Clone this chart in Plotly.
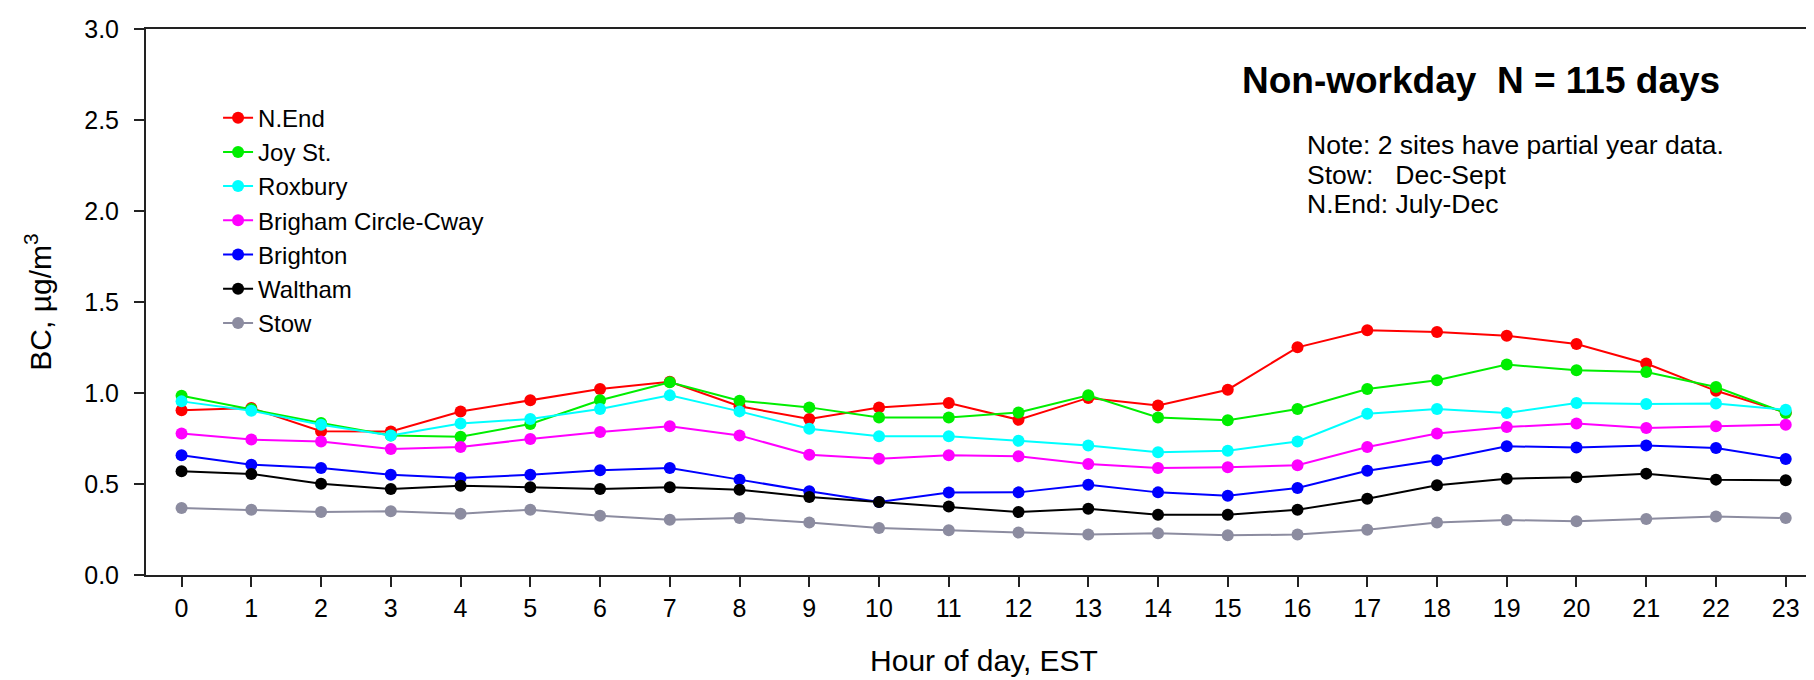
import plotly.graph_objects as go

hours = list(range(24))

n_end = [0.905, 0.917, 0.790, 0.788, 0.898, 0.960, 1.022, 1.062, 0.927, 0.857, 0.920, 0.945,
         0.853, 0.973, 0.932, 1.018, 1.251, 1.345, 1.335, 1.315, 1.269, 1.162, 1.012, 0.893]
joy_st = [0.985, 0.912, 0.835, 0.767, 0.760, 0.830, 0.960, 1.059, 0.958, 0.921, 0.866, 0.866,
          0.893, 0.988, 0.866, 0.850, 0.912, 1.022, 1.070, 1.156, 1.125, 1.115, 1.033, 0.890]
roxbury = [0.954, 0.903, 0.826, 0.767, 0.833, 0.857, 0.912, 0.987, 0.899, 0.804, 0.762, 0.762,
           0.738, 0.711, 0.674, 0.683, 0.734, 0.886, 0.912, 0.890, 0.945, 0.940, 0.942, 0.908]
brigham = [0.777, 0.744, 0.734, 0.692, 0.703, 0.747, 0.786, 0.817, 0.767, 0.661, 0.639, 0.658,
           0.652, 0.610, 0.588, 0.592, 0.603, 0.703, 0.777, 0.813, 0.832, 0.808, 0.817, 0.826]
brighton = [0.658, 0.606, 0.588, 0.551, 0.533, 0.551, 0.575, 0.588, 0.524, 0.460, 0.401, 0.453,
            0.454, 0.496, 0.454, 0.436, 0.478, 0.573, 0.630, 0.707, 0.701, 0.711, 0.698, 0.637]
waltham = [0.570, 0.555, 0.502, 0.473, 0.491, 0.482, 0.473, 0.482, 0.469, 0.429, 0.401, 0.376,
           0.346, 0.364, 0.331, 0.331, 0.359, 0.419, 0.493, 0.529, 0.537, 0.557, 0.524, 0.520]
stow = [0.368, 0.359, 0.346, 0.350, 0.337, 0.359, 0.326, 0.304, 0.313, 0.289, 0.258, 0.246,
        0.234, 0.222, 0.229, 0.218, 0.222, 0.249, 0.289, 0.302, 0.295, 0.308, 0.322, 0.313]

series_names = ["N.End", "Joy St.", "Roxbury", "Brigham Circle-Cway", "Brighton", "Waltham", "Stow"]
series_values = [n_end, joy_st, roxbury, brigham, brighton, waltham, stow]
series_colors = ["#ff0000", "#00ee00", "#00ffff", "#ff00ff", "#0000ff", "#000000", "#8c8ca0"]

y_ticks = [0.0, 0.5, 1.0, 1.5, 2.0, 2.5, 3.0]

title_text = "Non-workday\u00a0\u00a0N = 115 days"
note_lines = ["Note: 2 sites have partial year data.",
              "Stow:\u00a0\u00a0\u00a0Dec-Sept",
              "N.End: July-Dec"]

FONT = "Arial, Liberation Sans, sans-serif"

fig = go.Figure()
for name, vals, col in zip(series_names, series_values, series_colors):
    fig.add_trace(go.Scatter(
        x=hours, y=vals, name=name, mode="lines+markers",
        line=dict(color=col, width=2),
        marker=dict(color=col, size=12),
    ))

fig.update_layout(
    width=1814, height=680,
    margin=dict(l=138, r=0, t=21, b=113, autoexpand=False),
    paper_bgcolor="white", plot_bgcolor="white",
    font=dict(family=FONT, size=25, color="black"),
    showlegend=True,
    legend=dict(x=0.043, y=0.878, xanchor="left", yanchor="top",
                font=dict(size=24, family=FONT), bgcolor="rgba(0,0,0,0)",
                tracegroupgap=0),
)

fig.update_xaxes(
    range=[-0.51, 23.52], tickmode="array", tickvals=hours,
    ticks="outside", ticklen=10, tickwidth=2, tickcolor="#222",
    showline=True, linewidth=2, linecolor="#222", mirror=True,
    showgrid=False, zeroline=False, automargin=False,
    tickfont=dict(size=25), ticklabelstandoff=0,
    title=dict(text="Hour of day, EST", font=dict(size=30), standoff=29),
)
fig.update_yaxes(
    range=[0, 3], tickmode="array", tickvals=y_ticks,
    ticktext=[f"{v:.1f}" for v in y_ticks],
    ticks="outside", ticklen=10, tickwidth=2, tickcolor="#222",
    showline=True, linewidth=2, linecolor="#222",
    showgrid=False, zeroline=False, automargin=False,
    tickfont=dict(size=25), ticklabelstandoff=10,
    title=dict(text="BC, \u00b5g/m<sup>3</sup>", font=dict(size=30), standoff=24),
)

fig.add_annotation(xref="paper", yref="paper", x=0.6527, y=0.905,
                   xanchor="left", yanchor="middle", showarrow=False,
                   text=f"<b>{title_text}</b>", font=dict(size=37, family=FONT))
note_y = [0.788, 0.733, 0.679]
for txt, yy in zip(note_lines, note_y):
    fig.add_annotation(xref="paper", yref="paper", x=0.6915, y=yy,
                       xanchor="left", yanchor="middle", showarrow=False,
                       text=txt, font=dict(size=26.5, family=FONT))

fig.write_html("out.html")
